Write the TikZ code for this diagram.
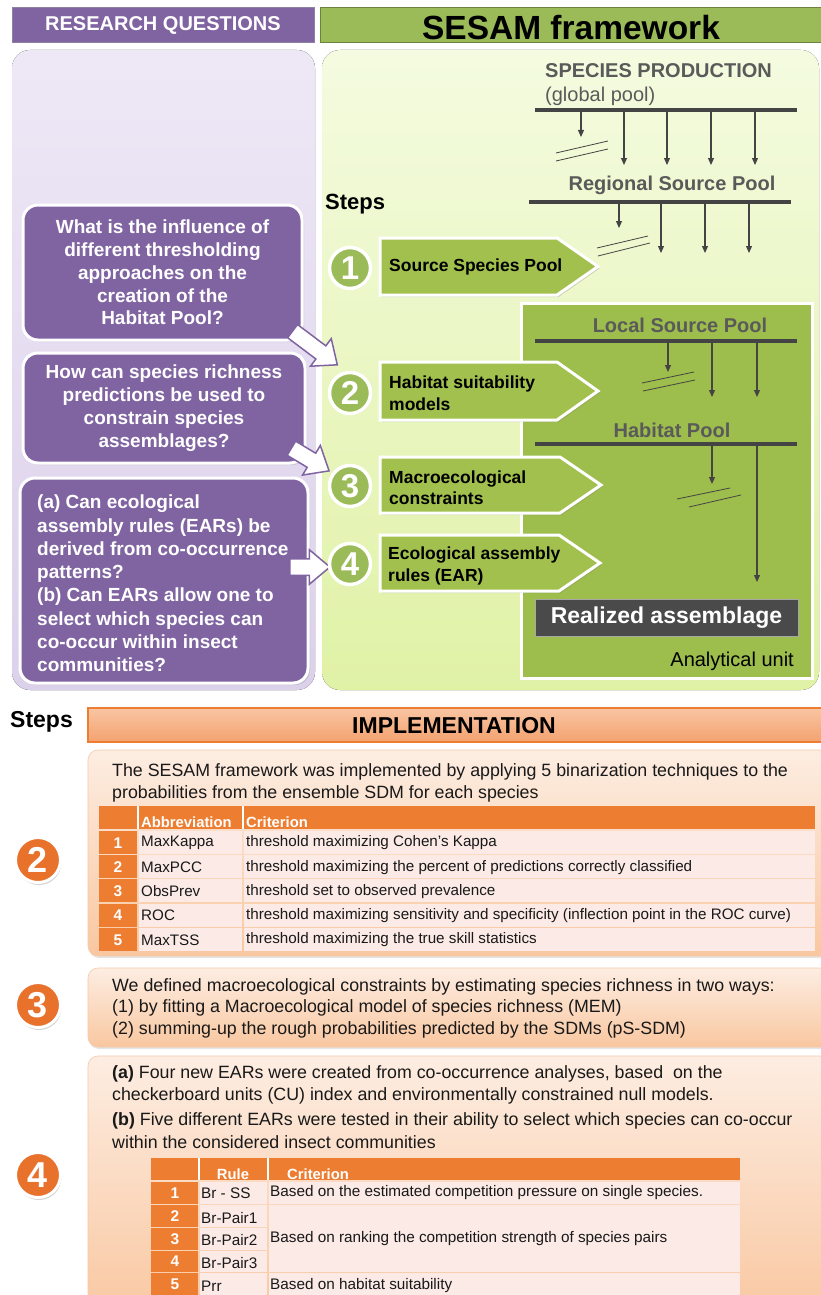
\documentclass[tikz,border=0pt]{standalone}
\usepackage{fontspec}
\setmainfont{Liberation Sans}
\usetikzlibrary{shapes.arrows,shadows,arrows.meta}
\definecolor{purp}{HTML}{8064A2}
\definecolor{purpdk}{HTML}{5F4B7A}
\definecolor{grn}{HTML}{9BBB59}
\definecolor{grnhdr}{HTML}{9BBB59}
\definecolor{grnbox}{HTML}{A2C04E}
\definecolor{grnunit}{HTML}{9DBD4C}
\definecolor{lavtop}{HTML}{EEE8F6}
\definecolor{lavbot}{HTML}{DCD1EB}
\definecolor{limetop}{HTML}{F4FBE0}
\definecolor{limebot}{HTML}{E0F2A6}
\definecolor{orng}{HTML}{ED7D31}
\definecolor{orngcirc}{HTML}{E8712C}
\definecolor{peachtop}{HTML}{FDEDE2}
\definecolor{peachbot}{HTML}{F9C7A0}
\definecolor{peachedge}{HTML}{F6C9A8}
\definecolor{implt}{HTML}{F9C5A3}
\definecolor{implb}{HTML}{F3A26F}
\definecolor{cellpink}{HTML}{FBEAE6}
\definecolor{poolgray}{HTML}{5A5A5A}
\definecolor{linegray}{HTML}{444444}
\definecolor{realgray}{HTML}{4A4A4A}
\newcommand{\myfs}[2]{\fontsize{#1}{#2}\selectfont}
\tikzset{
  qbox/.style={fill=purp, draw=white, line width=3pt, rounded corners=15pt, text=white,
    font=\myfs{19}{22.8}\bfseries, inner sep=0pt,
    drop shadow={opacity=0.25,shadow xshift=2pt,shadow yshift=-2pt}},
  parr/.style={single arrow, draw=purp, fill=white, line width=1.5pt, inner xsep=0pt,
    inner ysep=7.5pt, single arrow head extend=9pt, single arrow tip angle=80, minimum width=33pt},
  gcirc/.style={circle, fill=grn, draw=white, line width=3.5pt, minimum size=41pt, inner sep=0pt,
    text=white, font=\myfs{33}{33}\bfseries,
    drop shadow={opacity=0.3,shadow xshift=1pt,shadow yshift=-1.5pt}},
  gbox/.style={fill=grnbox, draw=white, line width=3pt, line join=miter,
    drop shadow={opacity=0.3,shadow xshift=1.5pt,shadow yshift=-2pt}},
  steptxt/.style={anchor=west, align=left, inner sep=0pt, font=\myfs{17.5}{21.5}\bfseries},
  pooltxt/.style={inner sep=0pt, text=poolgray, font=\myfs{20}{20}\bfseries},
  poolline/.style={draw=linegray, line width=3.5pt},
  parrow/.style={draw=linegray, line width=1.2pt, -{Triangle[length=7pt,width=6pt]}},
  slash/.style={draw=linegray, line width=0.8pt},
  ocirc/.style={circle, fill=orngcirc, draw=white, line width=3pt, minimum size=45pt, inner sep=0pt,
    text=white, font=\myfs{36}{36}\bfseries,
    drop shadow={opacity=0.35,shadow xshift=1pt,shadow yshift=-2.5pt}},
  panel/.style={rounded corners=10pt, top color=peachtop, bottom color=peachbot, draw=peachedge,
    line width=0.6pt, drop shadow={opacity=0.2,shadow xshift=1pt,shadow yshift=-2pt}},
  ptxt/.style={anchor=west, inner sep=0pt, font=\myfs{17.8}{21}, text=black!90},
  thdr/.style={inner sep=0pt, text=white, font=\myfs{14.8}{15}\bfseries},
  tnum/.style={inner sep=0pt, text=white, font=\myfs{15.5}{15}\bfseries},
  tcell/.style={inner sep=0pt, anchor=west, font=\myfs{15.2}{15}, text=black!90},
}
\begin{document}
\begin{tikzpicture}[x=1pt,y=-1pt]
\useasboundingbox (0,0) rectangle (821,1295);
\clip (0,0) rectangle (821,1295);
\fill[white] (0,0) rectangle (821,1295);

% ---------- headers
\node[fill=purp, draw=purpdk!70, line width=1pt, minimum width=302pt, minimum height=35pt,
  inner sep=0pt, text=white, font=\myfs{20}{20}\bfseries] (rq) at (163,25.5) {RESEARCH QUESTIONS};
\node[fill=grnhdr, draw=grn!70!black, line width=1pt, minimum width=505pt, minimum height=35pt,
  inner sep=0pt] (sf) at (572.5,25.5) {};
\node[inner sep=0pt, font=\myfs{33.5}{33}\bfseries] (sft) at (571,27.5) {SESAM framework};

% ---------- background panels
\fill[rounded corners=18pt, top color=lavtop, bottom color=lavbot] (12,50) rectangle (315,690);
\fill[rounded corners=18pt, top color=limetop, bottom color=limebot] (322,50) rectangle (819,690);

% ---------- analytical unit box
\draw[fill=grnunit, draw=white, line width=3pt, drop shadow={opacity=0.25,shadow xshift=1.5pt,shadow yshift=-2pt}]
  (521,303) rectangle (812,678);

% ---------- question boxes
\node[qbox, minimum width=279pt, minimum height=135pt, align=center] (q1) at (162.5,272.5)
  {What is the influence of\\different thresholding\\approaches on the\\creation of the\\Habitat Pool?};
\node[qbox, minimum width=282pt, minimum height=110pt, align=center] (q2) at (164,408)
  {How can species richness\\predictions be used to\\constrain species\\assemblages?};
\node[qbox, minimum width=288pt, minimum height=205pt] (q3) at (164,580.5) {};
\node[anchor=west, inner sep=0pt, align=left, text=white, font=\myfs{19}{23.3}\bfseries] (q3t) at (37,583.5)
  {(a) Can ecological\\assembly rules (EARs) be\\derived from co-occurrence\\patterns?\\(b) Can EARs allow one to\\select which species can\\co-occur within insect\\communities?};

% ---------- purple arrows
\node[parr, minimum height=56pt, rotate=-37] (a1) at (311,345) {};
\node[parr, minimum height=44pt, rotate=-31] (a2) at (306,457) {};
\node[parr, minimum height=40pt] (a3) at (305,567) {};

% ---------- Steps label
\node[anchor=west, inner sep=0pt, font=\myfs{22}{22}\bfseries] (steps1) at (325,204) {Steps};

% ---------- step pentagons
\draw[gbox] (380,238) -- (557,238) -- (598,266.5) -- (557,295) -- (380,295) -- cycle;
\draw[gbox] (380,362) -- (557,362) -- (598,391) -- (557,420) -- (380,420) -- cycle;
\draw[gbox] (380,457) -- (560,457) -- (601,485) -- (560,513) -- (380,513) -- cycle;
\draw[gbox] (380,535) -- (559,535) -- (600,563) -- (559,591) -- (380,591) -- cycle;
\node[steptxt] (s1) at (389,266.5) {Source Species Pool};
\node[steptxt] (s2) at (389,393) {Habitat suitability\\models};
\node[steptxt] (s3) at (389,487.5) {Macroecological\\constraints};
\node[steptxt] (s4) at (388,566) {Ecological assembly\\rules (EAR)};

% ---------- green circles
\node[gcirc] (c1) at (350,268) {1};
\node[gcirc] (c2) at (350,393) {2};
\node[gcirc] (c3) at (350,486) {3};
\node[gcirc] (c4) at (350,564) {4};

% ---------- pools: species production
\node[pooltxt, anchor=west] (sp) at (545,71) {SPECIES PRODUCTION};
\node[inner sep=0pt, anchor=west, text=poolgray, font=\myfs{20}{20}] (gp) at (545,96) {(global pool)};
\coordinate (gl1) at (535,110); \coordinate (gl2) at (797,110);
\draw[poolline] (gl1) -- (gl2);
\draw[parrow] (581,110) -- (581,137);
\foreach \x in {624,667,711,755} \draw[parrow] (\x,110) -- (\x,165);
\draw[slash] (556,153) -- (608,141);
\draw[slash] (556,161) -- (608,149);

\node[pooltxt] (rsp) at (672,185) {Regional Source Pool};
\coordinate (rl1) at (529,202); \coordinate (rl2) at (791,202);
\draw[poolline] (rl1) -- (rl2);
\draw[parrow] (619,202) -- (619,228);
\foreach \x in {661,705,749} \draw[parrow] (\x,202) -- (\x,253);
\draw[slash] (597,248) -- (648,236);
\draw[slash] (598,256) -- (650,243);

\node[pooltxt] (lsp) at (680,325) {Local Source Pool};
\draw[poolline] (535,341) -- (797,341);
\draw[parrow] (668,341) -- (668,372);
\foreach \x in {712,757} \draw[parrow] (\x,341) -- (\x,397);
\draw[slash] (642,383) -- (694,372);
\draw[slash] (643,391) -- (695,380);

\node[pooltxt] (hp) at (672,430) {Habitat Pool};
\draw[poolline] (535,444) -- (797,444);
\draw[parrow] (712,444) -- (712,484);
\node[fill=realgray, draw=gray!70, line width=0.8pt, minimum width=263pt, minimum height=37pt, inner sep=0pt,
  text=white, font=\myfs{23}{23}\bfseries] (ra) at (666.5,617.5) {Realized assemblage};
\draw[parrow] (757,444) -- (757,582);
\draw[slash] (677,499) -- (730,488);
\draw[slash] (689,507) -- (741,495);
\node[anchor=east, inner sep=0pt, font=\myfs{20}{20}] (au) at (794,661) {Analytical unit};

% ---------- implementation header
\node[anchor=west, inner sep=0pt, font=\myfs{23}{23}\bfseries] (steps2) at (10,722) {Steps};
\draw[top color=implt, bottom color=implb, draw=orng, line width=1.5pt] (88,708) rectangle (830,742);
\node[inner sep=0pt, font=\myfs{23}{23}\bfseries] (impl) at (454,726) {IMPLEMENTATION};

% ---------- panels
\draw[panel] (88,750) rectangle (830,956);
\draw[panel] (88,968) rectangle (830,1047);
\draw[panel] (88,1056) rectangle (830,1320);

% ---------- panel 2 text + table
\node[ptxt] (p2a) at (112,772) {The SESAM framework was implemented by applying 5 binarization techniques to the};
\node[ptxt] (p2b) at (112,794) {probabilities from the ensemble SDM for each species};
\fill[orng] (99,806) rectangle (815,829);
\draw[white, line width=1.2pt] (138,806) -- (138,829) (243,806) -- (243,829);
\node[thdr, anchor=base west] (h1a) at (141,827.5) {Abbreviation};
\node[thdr, anchor=base west] (h1b) at (246,827.5) {Criterion};
\foreach \ab/\cr [count=\k] in {MaxKappa/{threshold maximizing Cohen’s Kappa},
  MaxPCC/{threshold maximizing the percent of predictions correctly classified},
  ObsPrev/{threshold set to observed prevalence},
  ROC/{threshold maximizing sensitivity and specificity (inflection point in the ROC curve)},
  MaxTSS/{threshold maximizing the true skill statistics}}{
  \pgfmathsetmacro\yt{831+(\k-1)*24.2}
  \fill[orng] (99,\yt) rectangle (137.2,\yt+23);
  \fill[cellpink] (138.8,\yt) rectangle (242.2,\yt+23);
  \fill[cellpink] (243.8,\yt) rectangle (815,\yt+23);
  \node[tnum] (n1\k) at (118,\yt+12) {\k};
  \node[tcell] (a1\k) at (141,\yt+12) {\ab};
  \node[tcell] (r1\k) at (246,\yt+12) {\cr};
}

% ---------- panel 3 text
\node[ptxt] (p3a) at (112,987) {We defined macroecological constraints by estimating species richness in two ways:};
\node[ptxt] (p3b) at (112,1008) {(1) by fitting a Macroecological model of species richness (MEM)};
\node[ptxt] (p3c) at (112,1030) {(2) summing-up the rough probabilities predicted by the SDMs (pS-SDM)};

% ---------- panel 4 text + table
\node[ptxt] (p4a) at (112,1074) {\textbf{(a)} Four new EARs were created from co-occurrence analyses, based\ \ on the};
\node[ptxt] (p4b) at (112,1096) {checkerboard units (CU) index and environmentally constrained null models.};
\node[ptxt] (p4c) at (112,1121) {\textbf{(b)} Five different EARs were tested in their ability to select which species can co-occur};
\node[ptxt] (p4d) at (112,1142) {within the considered insect communities};

\fill[orng] (151,1158) rectangle (740,1180);
\draw[white, line width=1.2pt] (199,1158) -- (199,1180) (268,1158) -- (268,1180);
\node[thdr, anchor=base] (h2a) at (233,1179.5) {Rule};
\node[thdr, anchor=base west] (h2b) at (287,1179.5) {Criterion};
\foreach \yt/\yb [count=\k] in {1182/1203.5, 1205/1226.5, 1228/1249.5, 1251/1271.5, 1273/1295}{
  \fill[orng] (151,\yt) rectangle (198.2,\yb);
  \fill[cellpink] (199.8,\yt) rectangle (267.2,\yb);
  \node[tnum] (n2\k) at (175,{(\yt+\yb)/2}) {\k};
}
\fill[cellpink] (268.8,1182) rectangle (740,1203.5);
\fill[cellpink] (268.8,1205) rectangle (740,1271.5);
\fill[cellpink] (268.8,1273) rectangle (740,1295);
\node[tcell, font=\myfs{15.3}{15}] (rr1) at (201,1193) {Br - SS};
\node[tcell, font=\myfs{15.3}{15}] (rr2) at (201,1218) {Br-Pair1};
\node[tcell, font=\myfs{15.3}{15}] (rr3) at (201,1240) {Br-Pair2};
\node[tcell, font=\myfs{15.3}{15}] (rr4) at (201,1263) {Br-Pair3};
\node[tcell, font=\myfs{15.3}{15}] (rr5) at (201,1286) {Prr};
\node[tcell, font=\myfs{15.3}{15}] (cr1) at (270,1193) {Based on the estimated competition pressure on single species.};
\node[tcell, font=\myfs{15.3}{15}] (cr2) at (270,1239) {Based on ranking the competition strength of species pairs};
\node[tcell, font=\myfs{15.3}{15}] (cr5) at (270,1286) {Based on habitat suitability};

% ---------- orange circles
\node[ocirc] (o2) at (38,860) {2};
\node[ocirc] (o3) at (38,1005) {3};
\node[ocirc] (o4) at (38,1175) {4};
\end{tikzpicture}
\end{document}
